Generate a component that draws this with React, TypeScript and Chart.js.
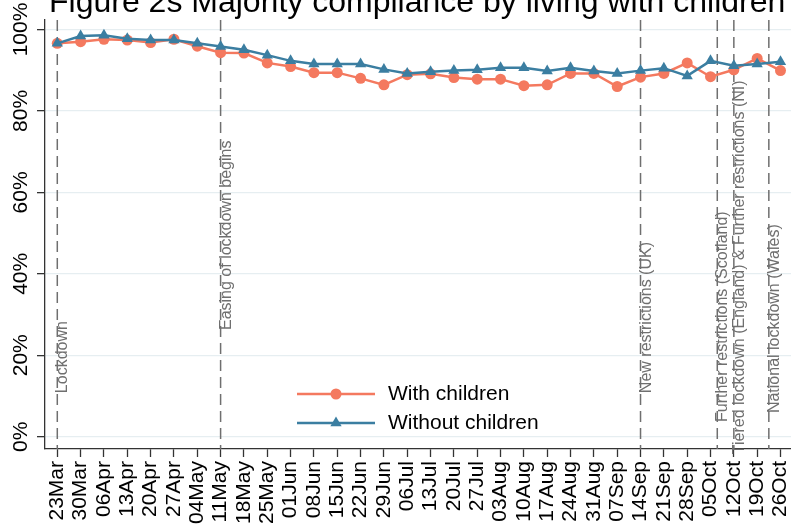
import React, { useEffect, useRef } from 'react';
import { Chart, registerables } from 'chart.js';

Chart.register(...registerables);

const titleText = 'Figure 2s Majority compliance by living with children';

const categories = [
  '23Mar', '30Mar', '06Apr', '13Apr', '20Apr', '27Apr', '04May', '11May',
  '18May', '25May', '01Jun', '08Jun', '15Jun', '22Jun', '29Jun', '06Jul',
  '13Jul', '20Jul', '27Jul', '03Aug', '10Aug', '17Aug', '24Aug', '31Aug',
  '07Sep', '14Sep', '21Sep', '28Sep', '05Oct', '12Oct', '19Oct', '26Oct',
];

const seriesLabels = ['With children', 'Without children'];

const withChildren = [
  96.6, 97.0, 97.6, 97.4, 96.8, 97.6, 95.9, 94.3,
  94.2, 91.8, 90.9, 89.4, 89.4, 88.0, 86.4, 88.9,
  89.1, 88.2, 87.8, 87.8, 86.2, 86.4, 89.2, 89.2,
  86.0, 88.3, 89.2, 91.8, 88.4, 90.1, 92.9, 89.9,
];

const withoutChildren = [
  96.6, 98.4, 98.6, 97.7, 97.4, 97.4, 96.6, 95.8,
  95.0, 93.7, 92.3, 91.5, 91.5, 91.5, 90.2, 89.2,
  89.6, 89.9, 90.1, 90.6, 90.6, 89.8, 90.6, 89.8,
  89.2, 89.9, 90.5, 88.6, 92.3, 91.1, 91.5, 92.1,
];

const yTickValues = [0, 20, 40, 60, 80, 100];

const eventPositions = [0, 7, 25, 28.29, 29, 30.5];
const eventLabels = [
  'Lockdown',
  'Easing of lockdown begins',
  'New restrictions (UK)',
  'Further restrictions (Scotland)',
  'Tiered lockdown (England) & Further restrictions (NI)',
  'National lockdown (Wales)',
];
const eventLabelStart = [10.7, 26.2, 10.7, 3.6, -4.3, 5.8];

const FONT = '"Liberation Sans", Arial, sans-serif';
const ORANGE = '#f4795f';
const BLUE = '#3b7ea1';
const AXIS = '#333333';
const GRID = '#e6eef1';
const EVENT = '#6f6f6f';

const eventsPlugin = {
  id: 'events',
  beforeDatasetsDraw(chart: any) {
    const { ctx, chartArea, scales } = chart;
    const xs = scales.x;
    const ys = scales.y;
    ctx.save();
    eventPositions.forEach((pos, i) => {
      const px = xs.getPixelForValue(pos);
      ctx.beginPath();
      ctx.setLineDash([11, 6]);
      ctx.strokeStyle = EVENT;
      ctx.lineWidth = 1.5;
      ctx.moveTo(px, chartArea.top);
      ctx.lineTo(px, chartArea.bottom);
      ctx.stroke();
      ctx.setLineDash([]);
      ctx.save();
      ctx.translate(px + 10, ys.getPixelForValue(eventLabelStart[i]));
      ctx.rotate(-Math.PI / 2);
      ctx.font = `16px ${FONT}`;
      ctx.fillStyle = EVENT;
      ctx.textAlign = 'left';
      ctx.textBaseline = 'alphabetic';
      ctx.fillText(eventLabels[i], 0, 0);
      ctx.restore();
    });
    ctx.restore();
  },
};

const overlayPlugin = {
  id: 'overlay',
  afterDraw(chart: any) {
    const { ctx, scales } = chart;
    const ys = scales.y;
    ctx.save();
    // y tick labels (rotated)
    ctx.font = `21px ${FONT}`;
    ctx.fillStyle = '#000';
    yTickValues.forEach((v) => {
      const py = ys.getPixelForValue(v);
      ctx.save();
      ctx.translate(21, py);
      ctx.rotate(-Math.PI / 2);
      ctx.textAlign = 'center';
      ctx.textBaseline = 'middle';
      ctx.fillText(`${v}%`, 0, 0);
      ctx.restore();
    });
    // title
    ctx.font = `32px ${FONT}`;
    ctx.fillStyle = '#000';
    ctx.textAlign = 'left';
    ctx.textBaseline = 'alphabetic';
    ctx.fillText(titleText, 49, 12);
    // legend
    const colors = [ORANGE, BLUE];
    seriesLabels.forEach((label, i) => {
      const y = 394 + i * 29;
      ctx.strokeStyle = colors[i];
      ctx.lineWidth = 2.5;
      ctx.beginPath();
      ctx.moveTo(297, y);
      ctx.lineTo(375, y);
      ctx.stroke();
      ctx.fillStyle = colors[i];
      ctx.beginPath();
      if (i === 0) {
        ctx.arc(336, y, 5.5, 0, Math.PI * 2);
      } else {
        const r = 6.5;
        for (let k = 0; k < 3; k++) {
          const a = (k * 2 * Math.PI) / 3;
          const vx = 336 + Math.sin(a) * r;
          const vy = y - Math.cos(a) * r;
          if (k === 0) ctx.moveTo(vx, vy);
          else ctx.lineTo(vx, vy);
        }
        ctx.closePath();
      }
      ctx.fill();
      ctx.fillStyle = '#000';
      ctx.font = `21px ${FONT}`;
      ctx.textAlign = 'left';
      ctx.textBaseline = 'middle';
      ctx.fillText(label, 388, y);
    });
    ctx.restore();
  },
};

export default function App() {
  const canvasRef = useRef<HTMLCanvasElement | null>(null);

  useEffect(() => {
    if (!canvasRef.current) return;
    const chart = new Chart(canvasRef.current, {
      type: 'line',
      data: {
        datasets: [
          {
            label: seriesLabels[0],
            data: withChildren.map((v, i) => ({ x: i, y: v })),
            borderColor: ORANGE,
            backgroundColor: ORANGE,
            pointBackgroundColor: ORANGE,
            pointBorderColor: ORANGE,
            pointStyle: 'circle',
            pointRadius: 5.5,
            pointBorderWidth: 0,
            borderWidth: 2.5,
            tension: 0,
            order: 1,
          },
          {
            label: seriesLabels[1],
            data: withoutChildren.map((v, i) => ({ x: i, y: v })),
            borderColor: BLUE,
            backgroundColor: BLUE,
            pointBackgroundColor: BLUE,
            pointBorderColor: BLUE,
            pointStyle: 'triangle',
            pointRadius: 6.5,
            pointBorderWidth: 0,
            borderWidth: 2.5,
            tension: 0,
            order: 0,
          },
        ],
      },
      options: {
        animation: false,
        responsive: false,
        maintainAspectRatio: false,
        events: [],
        layout: { autoPadding: false, padding: { top: 20, left: 0, right: 0, bottom: 0 } },
        plugins: {
          legend: { display: false },
          title: { display: false },
          tooltip: { enabled: false },
        },
        scales: {
          x: {
            type: 'linear',
            min: -0.527,
            max: 31.45,
            afterBuildTicks: (s: any) => {
              s.ticks = categories.map((_, i) => ({ value: i }));
            },
            afterFit: (s: any) => {
              s.height = 80;
              s.paddingLeft = 0;
              s.paddingRight = 0;
            },
            ticks: {
              autoSkip: false,
              minRotation: 90,
              maxRotation: 90,
              padding: 4,
              color: '#000',
              font: { family: FONT, size: 21 },
              callback: (v: any) => categories[v] ?? '',
            },
            grid: {
              drawOnChartArea: false,
              drawTicks: true,
              tickLength: 8,
              tickColor: AXIS,
              tickWidth: 1.3,
            },
            border: { color: AXIS, width: 1.3 },
          },
          y: {
            type: 'linear',
            min: -3.02,
            max: 102.33,
            afterBuildTicks: (s: any) => {
              s.ticks = yTickValues.map((v) => ({ value: v }));
            },
            afterFit: (s: any) => {
              s.width = 45;
              s.paddingTop = 0;
              s.paddingBottom = 0;
            },
            ticks: { display: false },
            grid: {
              color: GRID,
              lineWidth: 1.3,
              drawTicks: true,
              tickLength: 8,
              tickColor: AXIS,
              tickWidth: 1.3,
            },
            border: { color: AXIS, width: 1.3 },
          },
        },
      },
      plugins: [eventsPlugin, overlayPlugin],
    } as any);
    return () => chart.destroy();
  }, []);

  return (
    <div style={{ position: 'fixed', left: 0, top: 0, width: 791, height: 529, background: '#fff' }}>
      <canvas ref={canvasRef} width={791} height={529} style={{ display: 'block' }} />
    </div>
  );
}
